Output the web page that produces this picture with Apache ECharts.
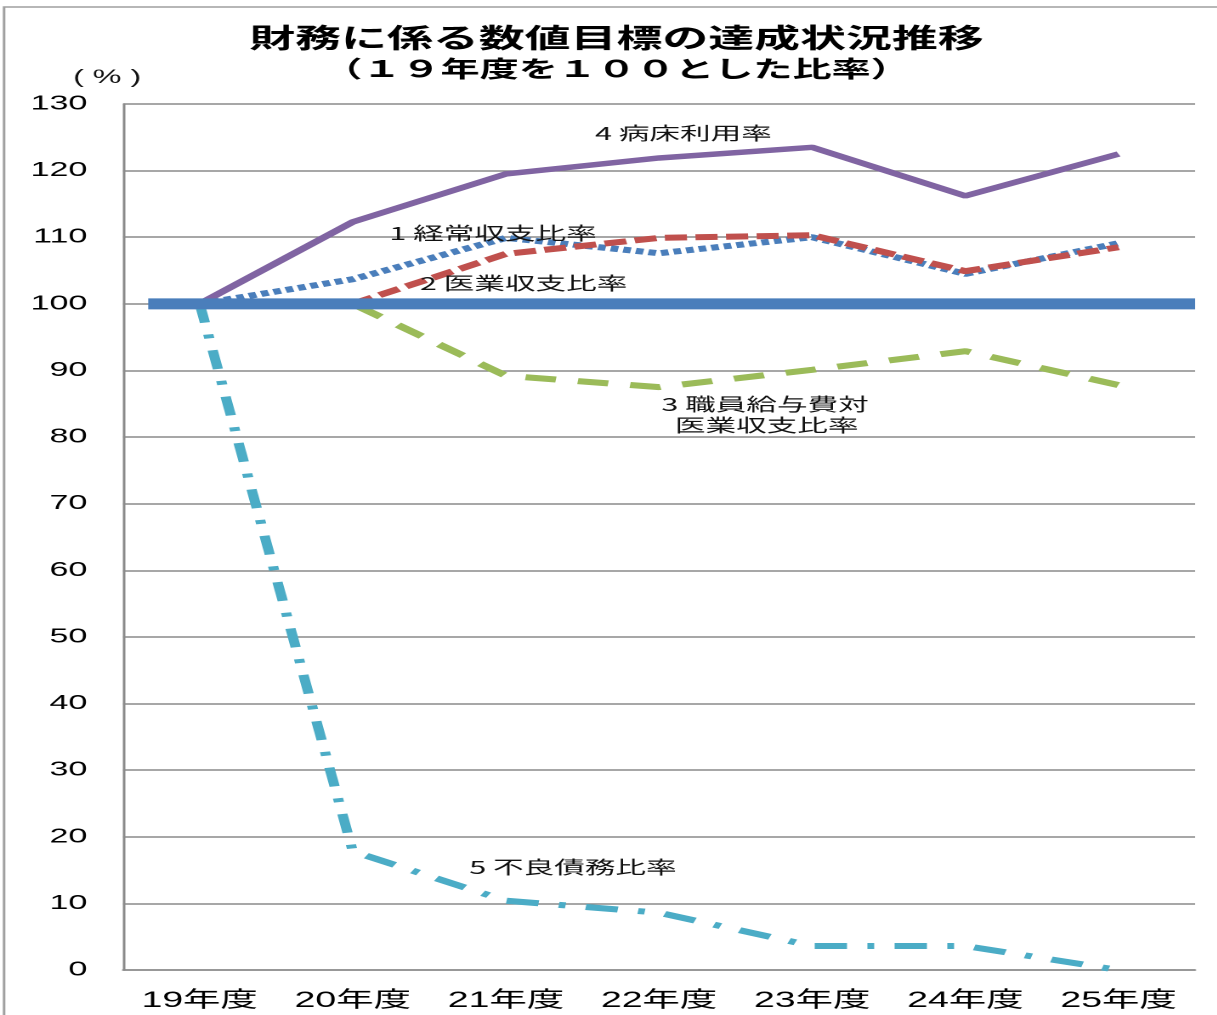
<!DOCTYPE html>
<html>
<head>
<meta charset="utf-8">
<script src="https://cdn.jsdelivr.net/npm/echarts@6/dist/echarts.min.js"></script>
<style>
  html, body { margin: 0; padding: 0; background: #fff; overflow: hidden; }
  #wrap { width: 1217px; height: 1015px; overflow: hidden; position: relative; }
  /* the chart is laid out narrow and widened, giving the broad lettering of the sheet */
  #chart { width: 716px; height: 1015px; transform: scaleX(1.7); transform-origin: 0 0; }
</style>
</head>
<body>
<div id="wrap"><div id="chart"></div></div>
<script>
// fiscal years
const years = ['19年度', '20年度', '21年度', '22年度', '23年度', '24年度', '25年度'];

// ratios with FY19 = 100
const ordinaryBalance = [100, 103.7, 109.9, 107.6, 110.0, 104.5, 109.1];   // 1 経常収支比率
const medicalBalance  = [100, 100.0, 107.5, 109.9, 110.3, 104.9, 108.5];   // 2 医業収支比率
const salaryRatio     = [100, 100.0, 89.2, 87.5, 90.1, 92.9, 87.8];        // 3 職員給与費対医業収支比率
const bedOccupancy    = [100, 112.3, 119.5, 121.9, 123.5, 116.2, 122.5];   // 4 病床利用率
const badDebtRatio    = [100, 17.8, 10.4, 8.6, 3.6, 3.6, 0];               // 5 不良債務比率

// FY19 baseline (100), drawn on a value axis spanning the category band
const baseLineX = [-0.336, 6.5];
const baseLineY = [100, 100];

const yTicks = { min: 0, max: 130, interval: 10 };

const chart = echarts.init(document.getElementById('chart'), null, { renderer: 'canvas', devicePixelRatio: 2 });

const cjk = '"Noto Sans CJK JP", "Noto Sans", sans-serif';
const latin = '"Liberation Sans", Arial, "Noto Sans CJK JP", sans-serif';
const gridGray = '#8a8a8a';

function note(text, x, y, align) {
  return {
    type: 'text', x: x, y: y, z: 50,
    style: { text: text, font: '18px ' + cjk, fill: '#111', textAlign: align || 'left', textVerticalAlign: 'middle' }
  };
}

chart.setOption({
  backgroundColor: '#fff',
  animation: false,
  title: {
    text: '財務に係る数値目標の達成状況推移',
    subtext: '（１９年度を１００とした比率）',
    left: 357.6,
    textAlign: 'center',
    top: 19,
    itemGap: 6,
    textStyle: { fontFamily: cjk, fontSize: 27, fontWeight: 'bold', color: '#000' },
    subtextStyle: { fontFamily: cjk, fontSize: 23, fontWeight: 'bold', color: '#000' }
  },
  grid: { left: 72.4, right: 13, top: 104, bottom: 45, containLabel: false },
  xAxis: [
    {
      type: 'category',
      data: years,
      boundaryGap: true,
      axisLine: { show: true, onZero: false, lineStyle: { color: gridGray, width: 1.5 } },
      axisTick: { show: false },
      axisLabel: { fontFamily: latin, fontSize: 22, color: '#000', margin: 20 },
      splitLine: { show: false }
    },
    {
      type: 'value',
      min: -0.5, max: 6.5,
      show: false
    }
  ],
  yAxis: {
    type: 'value',
    min: yTicks.min, max: yTicks.max, interval: yTicks.interval,
    axisLine: { show: true, onZero: false, lineStyle: { color: gridGray, width: 1.5 } },
    axisTick: { show: false },
    axisLabel: { fontFamily: latin, fontSize: 20, color: '#000', margin: 21 },
    splitLine: { show: true, lineStyle: { color: gridGray, width: 1.5 } }
  },
  graphic: [
    {
      type: 'rect', x: 2.4, y: 7, z: -10, silent: true,
      shape: { width: 900, height: 1200 },
      style: { fill: 'none', stroke: '#a0a0a0', lineWidth: 1.5 }
    },
    {
      type: 'text', x: 63, y: 78, z: 50,
      style: { text: '( % )', font: '19px ' + latin, fill: '#111', textAlign: 'center', textVerticalAlign: 'middle' }
    },
    note('4 病床利用率', 350, 133),
    note('1 経常収支比率', 229, 233),
    note('2 医業収支比率', 247, 283),
    note('3 職員給与費対', 450, 404, 'center'),
    note('医業収支比率', 451, 425, 'center'),
    note('5 不良債務比率', 276, 867)
  ],
  series: [
    {
      name: '1 経常収支比率', type: 'line', data: ordinaryBalance, symbol: 'none', z: 3,
      lineStyle: { color: '#4A7EBB', width: 6, type: [4.5, 3], cap: 'butt' }
    },
    {
      name: '2 医業収支比率', type: 'line', data: medicalBalance, symbol: 'none', z: 4,
      lineStyle: { color: '#C0504D', width: 6, type: [13, 5], cap: 'butt' }
    },
    {
      name: '3 職員給与費対医業収支比率', type: 'line', data: salaryRatio, symbol: 'none', z: 4,
      lineStyle: { color: '#9BBB59', width: 6, type: [18, 13], cap: 'butt' }
    },
    {
      name: '4 病床利用率', type: 'line', data: bedOccupancy, symbol: 'none', z: 4,
      lineStyle: { color: '#8064A2', width: 5.5 }
    },
    {
      name: '5 不良債務比率', type: 'line', data: badDebtRatio, symbol: 'none', z: 4,
      lineStyle: { color: '#4BACC6', width: 6, type: [19, 12, 4, 12], cap: 'butt' }
    },
    {
      name: '基準', type: 'line', xAxisIndex: 1, z: 6, symbol: 'none',
      data: baseLineX.map((x, i) => [x, baseLineY[i]]),
      lineStyle: { color: '#4A7EBB', width: 11, cap: 'butt' }
    }
  ]
});
</script>
</body>
</html>
